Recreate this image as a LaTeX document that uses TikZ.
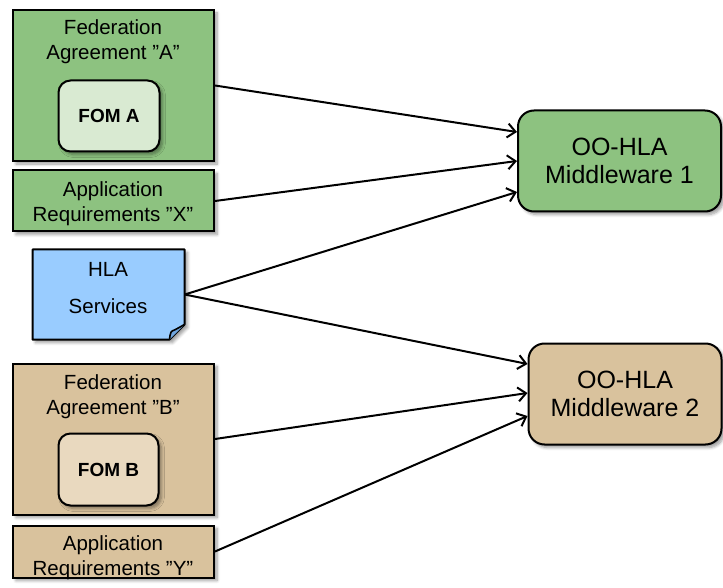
\documentclass[tikz,border=0pt]{standalone}
\usepackage{fontspec}
\setmainfont{Liberation Sans}
\usetikzlibrary{arrows.meta,shadows.blur,calc}

\definecolor{fedgreen}{RGB}{141,194,128}
\definecolor{fomgreen}{RGB}{217,234,210}
\definecolor{fedtan}{RGB}{217,194,157}
\definecolor{fomtan}{RGB}{233,217,191}
\definecolor{hlablue}{RGB}{153,204,255}
\definecolor{hlafold}{RGB}{112,165,222}

\tikzset{
  shade box/.style={blur shadow={shadow xshift=3pt,shadow yshift=-3pt,
      shadow blur steps=6,shadow blur radius=3pt,shadow opacity=40}},
  plainbox/.style={rectangle,draw=black,line width=2pt,inner sep=0pt,
      align=center,shade box},
  fombox/.style={plainbox,rounded corners=12pt,
      font=\fontsize{19}{23}\selectfont\bfseries},
  mwbox/.style={plainbox,rounded corners=16pt,
      font=\fontsize{25}{28}\selectfont},
  sidetext/.style={font=\fontsize{20.5}{25}\selectfont,align=center},
  conn/.style={draw=black,line width=2pt,
      -{Straight Barb[length=8pt,width=14pt,line width=2pt]}},
}

\begin{document}
\begin{tikzpicture}[x=1pt,y=-1pt]
  \useasboundingbox (0,0) rectangle (723,588);

  % Federation A with its FOM
  \node[plainbox,fill=fedgreen,minimum width=201,minimum height=151]
    (fedA) at (113.5,85.5) {};
  \node[sidetext,anchor=base] (fedAtitle) at (113,60)
    {Federation\\Agreement ”A”};
  \node[fombox,fill=fomgreen,minimum width=101,minimum height=71]
    (fomA) at (109,116) {FOM A};

  \node[plainbox,fill=fedgreen,minimum width=201,minimum height=61]
    (appX) at (113.5,201) {};
  \node[sidetext,anchor=base] (appXtext) at (113,222)
    {Application\\Requirements ”X”};

  % HLA services note with folded corner
  \path[shade box,fill=hlablue,draw=black,line width=2pt,line join=round]
    (32.5,249.5) -- (184.5,249.5) -- (184.5,324.5) -- (169.5,339.5)
    -- (32.5,339.5) -- cycle;
  \path[fill=hlafold,draw=black,line width=1.6pt,line join=round]
    (169.5,339.5) .. controls (170.5,331.5) .. (175.5,329.5) -- (184.5,324.5);
  \node[minimum width=152,minimum height=90,inner sep=0pt]
    (hla) at (108.5,294.5) {};
  \node[sidetext,anchor=base] (hlatext) at (108,313)
    {HLA\\[12pt]Services};

  % Federation B with its FOM
  \node[plainbox,fill=fedtan,minimum width=201,minimum height=151]
    (fedB) at (113.5,439) {};
  \node[sidetext,anchor=base] (fedBtitle) at (113,414)
    {Federation\\Agreement ”B”};
  \node[fombox,fill=fomtan,minimum width=100,minimum height=72]
    (fomB) at (108.5,469.5) {FOM B};

  \node[plainbox,fill=fedtan,minimum width=201,minimum height=52]
    (appY) at (113.5,551.5) {};
  \node[sidetext,anchor=base] (appYtext) at (113,575)
    {Application\\Requirements ”Y”};

  % Middleware
  \node[mwbox,fill=fedgreen,minimum width=203,minimum height=101]
    (mw1) at (619.5,161) {OO-HLA\\Middleware 1};
  \node[mwbox,fill=fedtan,minimum width=193,minimum height=101]
    (mw2) at (625,394) {OO-HLA\\Middleware 2};

  % Connectors
  \draw[conn] (fedA.east) -- ($(mw1.west)+(0,-29)$);
  \draw[conn] (appX.east) -- (mw1.west);
  \draw[conn] (hla.east) -- ($(mw1.west)+(0,31)$);
  \draw[conn] (hla.east) -- ($(mw2.west)+(0,-30)$);
  \draw[conn] (fedB.east) -- ($(mw2.west)+(0,-1)$);
  \draw[conn] (appY.east) -- ($(mw2.west)+(0,22)$);
\end{tikzpicture}
\end{document}
